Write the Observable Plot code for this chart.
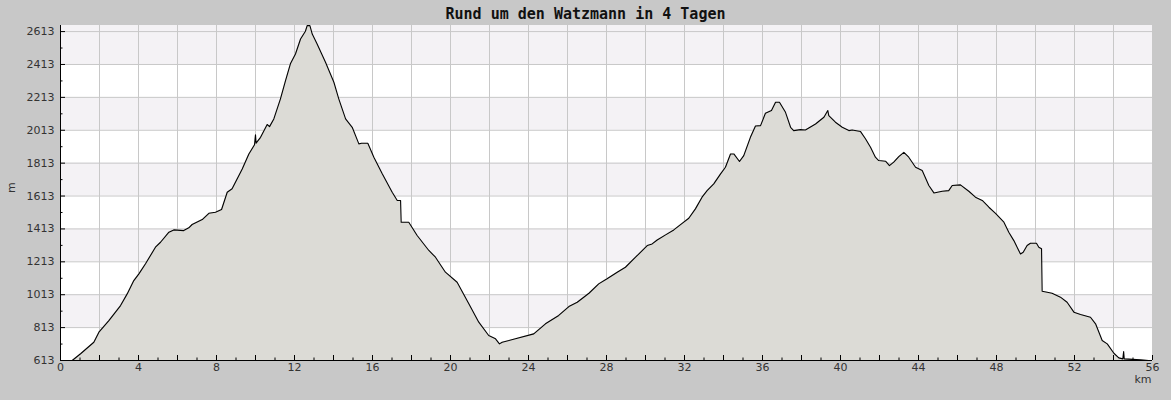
<!DOCTYPE html>
<html><head><meta charset="utf-8">
<script src="https://cdn.jsdelivr.net/npm/d3@7"></script>
<script src="https://cdn.jsdelivr.net/npm/@observablehq/plot@0.6"></script>
<style>
body{margin:0;background:#c8c8c8;}
#wrap{position:relative;width:1171px;height:400px;background:#c8c8c8;overflow:hidden}
#title{position:absolute;top:7px;left:0;width:1171px;text-align:center;font:bold 15px "DejaVu Sans Mono",monospace;line-height:15px;color:#111;}
#chart svg{display:block}
</style></head><body>
<div id="wrap"><div id="chart"></div><div id="title">Rund um den Watzmann in 4 Tagen</div></div>
<script>
const km = [0,0.6,1.03,1.71,1.97,2.48,3.08,3.42,3.76,4.02,4.36,4.87,5.13,5.56,5.81,6.32,6.58,6.75,7.27,7.61,7.95,8.26,8.55,8.8,9.32,9.66,9.95,10.0,10.03,10.26,10.6,10.72,10.94,11.28,11.54,11.79,12.05,12.31,12.56,12.65,12.79,12.91,13.16,13.59,14.02,14.27,14.62,14.96,15.3,15.44,15.76,16.07,16.5,17.01,17.27,17.44,17.47,17.86,18.29,18.89,19.23,19.74,20.34,20.94,21.45,21.96,22.31,22.51,22.65,23.33,24.27,24.87,25.55,26.07,26.5,27.1,27.6,28.03,28.55,28.97,29.49,30.09,30.34,30.6,31.03,31.45,31.88,32.22,32.56,32.9,33.16,33.5,33.85,34.1,34.36,34.53,34.82,35.04,35.38,35.64,35.9,36.15,36.46,36.67,36.87,37.18,37.44,37.6,37.95,38.2,38.72,39.15,39.35,39.4,39.74,40.09,40.43,40.6,41.03,41.28,41.54,41.79,41.96,42.31,42.51,42.73,42.99,43.25,43.5,43.85,44.19,44.53,44.79,45.22,45.55,45.73,46.15,46.58,46.92,47.27,47.61,47.95,48.38,48.63,48.89,49.23,49.37,49.57,49.74,50.05,50.17,50.31,50.34,50.6,50.85,51.28,51.62,51.97,52.31,52.82,53.08,53.42,53.68,54.02,54.27,54.48,54.52,54.55,55.38,55.8,55.9];
const elevation = [613,613,654,724,785,856,947,1018,1099,1140,1201,1302,1332,1393,1407,1403,1420,1440,1470,1508,1514,1531,1636,1657,1778,1869,1925,1985,1935,1970,2048,2035,2082,2204,2315,2417,2477,2568,2615,2649,2649,2598,2538,2426,2305,2204,2082,2031,1930,1934,1934,1849,1748,1636,1586,1586,1454,1454,1373,1282,1241,1150,1089,958,846,765,745,714,724,745,775,836,887,941,967,1022,1079,1110,1150,1180,1241,1312,1322,1346,1377,1407,1447,1478,1535,1606,1646,1687,1748,1788,1869,1869,1823,1859,1970,2039,2041,2116,2133,2183,2183,2122,2031,2011,2017,2015,2051,2092,2133,2102,2062,2031,2011,2015,2005,1961,1910,1849,1829,1825,1798,1819,1853,1879,1849,1788,1768,1677,1632,1642,1646,1677,1681,1642,1606,1586,1545,1508,1454,1393,1342,1261,1271,1312,1326,1326,1302,1292,1034,1028,1022,998,967,907,893,876,836,735,714,657,629,623,668,623,617,613,613];
const xTickLabels = [0,4,8,12,16,20,24,28,32,36,40,44,48,52,56];
const xMajorTicks = [0,2,4,6,8,10,12,14,16,18,20,22,24,26,28,30,32,34,36,38,40,42,44,46,48,50,52,54,56];
const xMinorTicks = [1,3,5,7,9,11,13,15,17,19,21,23,25,27,29,31,33,35,37,39,41,43,45,47,49,51,53,55];
const yTicks = [613,813,1013,1213,1413,1613,1813,2013,2213,2413,2613];
const yMinorTicks = [713,913,1113,1313,1513,1713,1913,2113,2313,2513];
const xDomain = [0,56];
const yDomain = [613,2650];

const data = km.map((k,i)=>({km:k, m:elevation[i]}));
const bands = yTicks.filter((d,i)=>i%2===1).map(d=>({lo:d, hi: d===yTicks[yTicks.length-1]-200 ? yDomain[1] : d+200}));

const chart = Plot.plot({
  width:1171, height:400,
  marginLeft:60, marginRight:19, marginTop:25, marginBottom:40,
  style:{background:"transparent", fontFamily:"DejaVu Sans", fontSize:"11px", color:"#333"},
  x:{domain:xDomain},
  y:{domain:yDomain},
  marks:[
    Plot.frame({fill:"white", stroke:null}),
    Plot.rect(bands, {x1:xDomain[0], x2:xDomain[1], y1:"lo", y2:"hi", fill:"#f4f2f5"}),
    Plot.gridX(xMajorTicks, {stroke:"#c8c8c8", strokeOpacity:1}),
    Plot.gridY(yTicks, {stroke:"#c8c8c8", strokeOpacity:1}),
    Plot.areaY(data, {x:"km", y1:yDomain[0], y2:"m", fill:"#dcdbd6"}),
    Plot.lineY(data, {x:"km", y:"m", stroke:"#000", strokeWidth:1.1}),
    Plot.ruleY([yDomain[0]], {stroke:"#000"}),
    Plot.ruleX([xDomain[0]], {stroke:"#000"}),
    Plot.axisY(yTicks, {tickSize:-5, tickFormat:()=>"", stroke:"#000", label:null}),
    Plot.axisY(yMinorTicks, {tickSize:-2.5, tickFormat:()=>"", stroke:"#000", label:null}),
    Plot.axisY(yTicks, {tickSize:0, tickPadding:6, label:null, fill:"#333", tickFormat:d=>String(d)}),
    Plot.axisX(xMajorTicks, {tickSize:-5, tickFormat:()=>"", stroke:"#000", label:null}),
    Plot.axisX(xMinorTicks, {tickSize:-2.5, tickFormat:()=>"", stroke:"#000", label:null}),
    Plot.axisX(xTickLabels, {tickSize:0, tickPadding:3, label:null, fill:"#333", tickFormat:d=>String(d)}),
    Plot.text(["km"], {frameAnchor:"bottom-right", dy:22, dx:-1, textAnchor:"end", fill:"#333"}),
    Plot.text(["m"], {frameAnchor:"left", dx:-49, rotate:-90, fill:"#333"})
  ]
});
document.getElementById("chart").appendChild(chart);
</script>
</body></html>
